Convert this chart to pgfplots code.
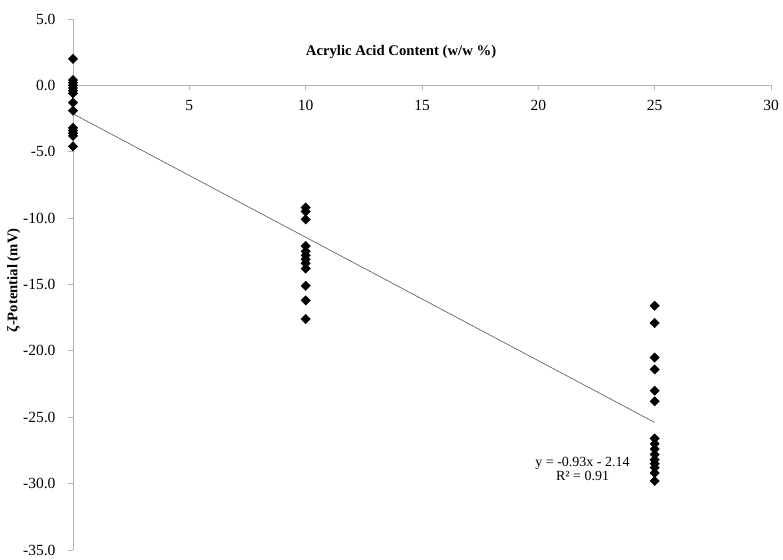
\documentclass[border=0pt]{standalone}
\usepackage{pgfplots}
\pgfplotsset{compat=1.18}
\usepackage{fontspec}
\setmainfont{Liberation Serif}
\begin{document}
\begin{tikzpicture}
\useasboundingbox (-73pt,-9pt) rectangle (710pt,550pt);
\begin{axis}[
  scale only axis, width=698pt, height=531pt,
  xmin=0, xmax=30, ymin=-35, ymax=5,
  axis x line=middle, axis y line=left,
  axis line style={draw=gray!60, line width=0.8pt, -},
  xtick={5,10,...,30}, ytick={-35,-30,...,5},
  tick style={draw=gray!60, line width=0.8pt},
  tick align=outside, major tick length=5pt,
  /pgf/number format/assume math mode=true,
  every x tick label/.append style={font=\fontsize{15.5}{17}\selectfont, yshift=-6pt},
  every y tick label/.append style={font=\fontsize{15.5}{17}\selectfont, xshift=-9pt},
  yticklabel={\pgfmathprintnumber[fixed, fixed zerofill, precision=1, assume math mode=true]{\tick}},
  xlabel={\textbf{Acrylic Acid Content (w/w \%)}},
  ylabel={\textbf{ζ-Potential (mV)}},
  xlabel style={at={(axis description cs:0.47,0.938)}, anchor=center, font=\fontsize{14.7}{16}\selectfont},
  ylabel style={at={(axis description cs:-0.085,0.508)}, anchor=center, font=\fontsize{14.7}{16}\selectfont},
  clip=false,
]
\addplot[gray!80!black, line width=0.7pt] coordinates {(0,-2.14) (25,-25.39)};
\addplot[only marks, mark=square*, mark size=3.3pt, mark options={rotate=45, fill=black, draw=black}] coordinates {
  (0,2.0) (0,0.4) (0,0.2) (0,0.0) (0,-0.2) (0,-0.4) (0,-0.6) (0,-1.3) (0,-1.9)
  (0,-3.2) (0,-3.4) (0,-3.6) (0,-3.8) (0,-4.6)
  (10,-9.2) (10,-9.5) (10,-10.1) (10,-12.1) (10,-12.5) (10,-12.8) (10,-13.1)
  (10,-13.4) (10,-13.8) (10,-15.1) (10,-16.2) (10,-17.6)
  (25,-16.6) (25,-17.9) (25,-20.5) (25,-21.4) (25,-23.0) (25,-23.8) (25,-26.6)
  (25,-27.0) (25,-27.4) (25,-27.8) (25,-28.2) (25,-28.5) (25,-28.8) (25,-29.2) (25,-29.8)
};
\node[align=center, font=\fontsize{14}{14}\selectfont] at (axis cs:21.9,-28.9) {y = -0.93x - 2.14\\R² = 0.91};
\end{axis}
\end{tikzpicture}
\end{document}
